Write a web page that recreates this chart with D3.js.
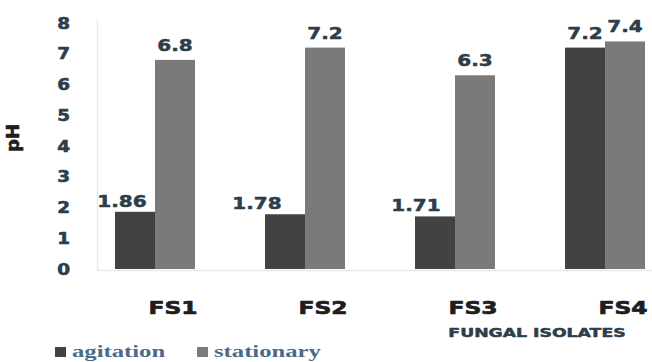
<!DOCTYPE html>
<html>
<head>
<meta charset="utf-8">
<script src="https://cdn.jsdelivr.net/npm/d3@7/dist/d3.min.js"></script>
<style>
  html, body { margin: 0; padding: 0; background: #fff; }
  svg { display: block; }
</style>
</head>
<body>
<svg id="chart" width="652" height="362"></svg>
<script>
// pH of culture media per fungal isolate, under agitation vs stationary growth
const isolates = ["FS1", "FS2", "FS3", "FS4"];
const seriesNames = ["agitation", "stationary"];
const agitation = [1.86, 1.78, 1.71, 7.2];
const stationary = [6.8, 7.2, 6.3, 7.4];
const yTicks = [0, 1, 2, 3, 4, 5, 6, 7, 8];

// layout / style
const colors = { agitation: "#424242", stationary: "#7a7a7a" };
const agitationLabelNudge = [-13, -28, -19, 0];   // hand-placed labels beside the short bars
const textColor = "#2e3d4a";

const svg = d3.select("#chart");

const x = d3.scaleBand().domain(isolates).range([80, 680]).paddingInner(0.4667).paddingOuter(0.2333);
const xInner = d3.scaleBand().domain(seriesNames).range([0, x.bandwidth()]);
const y = d3.scaleLinear().domain([0, 8]).range([269, 23]);

// stretch text horizontally by factor k
function widen(sel, k) {
  sel.each(function () {
    const w = this.getComputedTextLength();
    d3.select(this).attr("textLength", w * k).attr("lengthAdjust", "spacingAndGlyphs");
  });
}
// heavy bold look
function heavy(sel, color, sw) {
  sel.attr("fill", color).attr("stroke", color).attr("stroke-width", sw).attr("stroke-linejoin", "round");
}

// faint frame lines
svg.append("line").attr("x1", 97.5).attr("x2", 97.5).attr("y1", 20).attr("y2", 271)
  .attr("stroke", "#e3e9ee").attr("stroke-width", 1.5);
svg.append("line").attr("x1", 97).attr("x2", 652).attr("y1", 270.5).attr("y2", 270.5)
  .attr("stroke", "#e3e9ee").attr("stroke-width", 1.5);

// y axis
const yAxis = svg.append("g").attr("transform", "translate(97,0)")
  .call(d3.axisLeft(y).tickValues(yTicks).tickSize(0).tickPadding(27).tickFormat(d3.format("d")));
yAxis.select(".domain").remove();
yAxis.selectAll("text")
  .attr("font-family", "DejaVu Sans").attr("font-weight", "bold").attr("font-size", 16)
  .call(heavy, textColor, 0.6).call(widen, 1.15);

// y title
svg.append("text").attr("transform", "translate(19,138) rotate(-90)")
  .attr("text-anchor", "middle").attr("font-family", "DejaVu Sans").attr("font-weight", "bold")
  .attr("font-size", 18).call(heavy, "#1e1e1e", 0.6).text("pH");

// bars
const rows = isolates.map((c, i) => ({ c, i, agitation: agitation[i], stationary: stationary[i] }));
const groups = svg.append("g").selectAll("g").data(rows).join("g")
  .attr("transform", d => `translate(${x(d.c)},0)`);

groups.selectAll("rect").data(d => seriesNames.map(s => ({ s, v: d[s] }))).join("rect")
  .attr("x", d => xInner(d.s)).attr("width", xInner.bandwidth())
  .attr("y", d => y(d.v)).attr("height", d => y(0) - y(d.v))
  .attr("fill", d => colors[d.s]);

// value labels
groups.selectAll("text.val").data(d => seriesNames.map(s => ({ s, v: d[s], i: d.i }))).join("text")
  .attr("class", "val")
  .attr("x", d => xInner(d.s) + xInner.bandwidth() / 2 + (d.s === "agitation" ? agitationLabelNudge[d.i] : 0))
  .attr("y", d => y(d.v) - (d.v < 3 ? 5 : 9))
  .attr("text-anchor", "middle").attr("font-family", "DejaVu Sans").attr("font-weight", "bold")
  .attr("font-size", 16).call(heavy, textColor, 0.5)
  .text(d => String(d.v))
  .call(widen, 1.25);

// category axis
const xAxis = svg.append("g").attr("transform", "translate(18,270)")
  .call(d3.axisBottom(x).tickSize(0).tickPadding(31));
xAxis.select(".domain").remove();
xAxis.selectAll("text")
  .attr("font-family", "DejaVu Sans").attr("font-weight", "bold").attr("font-size", 18)
  .call(heavy, "#1e1e1e", 0.7).call(widen, 1.3);

// x title
svg.append("text").attr("x", 537).attr("y", 337).attr("text-anchor", "middle")
  .attr("font-family", "DejaVu Sans").attr("font-weight", "bold").attr("font-size", 12.5)
  .call(heavy, textColor, 0.5).text("FUNGAL ISOLATES").call(widen, 1.38);

// legend
const legendX = [55, 197];
const legend = svg.append("g").selectAll("g").data(seriesNames).join("g")
  .attr("transform", (d, i) => `translate(${legendX[i]},347)`);
legend.append("rect").attr("width", 11).attr("height", 10).attr("fill", d => colors[d]);
legend.append("text").attr("x", 17).attr("y", 10)
  .attr("font-family", "'Liberation Serif', 'DejaVu Serif', serif").attr("font-weight", "bold").attr("font-size", 17)
  .attr("fill", "#4b6a86").text(d => d).call(widen, 1.45);
</script>
</body>
</html>
